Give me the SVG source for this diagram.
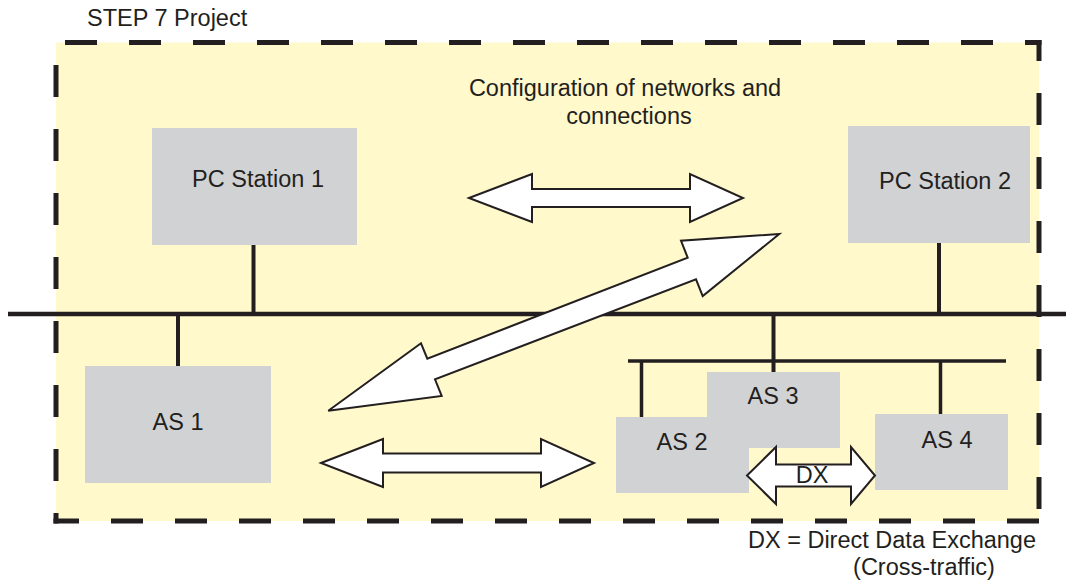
<svg xmlns="http://www.w3.org/2000/svg" width="1066" height="585" viewBox="0 0 1066 585">
<style>
  text { font-family: "Liberation Sans", Arial, sans-serif; font-size: 23.5px; fill: #231f20; }
  .mid { text-anchor: middle; }
  .box { fill: #d1d2d4; }
  .frame { stroke: #231f20; stroke-width: 5; fill: none; stroke-dasharray: 32 32; }
  .bus { stroke: #231f20; stroke-width: 4.5; fill: none; }
  .drop { stroke: #231f20; stroke-width: 4; fill: none; }
  .arrow { fill: #ffffff; stroke: #231f20; stroke-width: 2; stroke-linejoin: miter; }
</style>
<rect width="1066" height="585" fill="#ffffff"/>
<g id="project">
  <rect x="56" y="42.5" width="983" height="478.5" fill="#fff9cb"/>
  <line class="frame" x1="65" y1="42.5" x2="1041.5" y2="42.5"/>
  <line class="frame" x1="56" y1="65" x2="56" y2="523.5"/>
  <line class="frame" x1="1039" y1="40" x2="1039" y2="61" style="stroke-dasharray:none"/>
  <line class="frame" x1="1039" y1="93" x2="1039" y2="509"/>
  <line class="frame" x1="53.5" y1="521" x2="79" y2="521" style="stroke-dasharray:none"/>
  <line class="frame" x1="111" y1="521" x2="1041.5" y2="521"/>
  <text x="87" y="26">STEP 7 Project</text>
  <text class="mid" x="625" y="96">Configuration of networks and</text>
  <text class="mid" x="629" y="124">connections</text>
</g>
<g id="pc1">
  <rect class="box" x="152" y="128" width="205" height="117"/>
  <text class="mid" x="258" y="187">PC Station 1</text>
</g>
<g id="pc2">
  <rect class="box" x="848" y="126" width="182" height="117"/>
  <text class="mid" x="945" y="189">PC Station 2</text>
</g>
<g id="as1">
  <rect class="box" x="85" y="366" width="186" height="117"/>
  <text class="mid" x="178" y="430">AS 1</text>
</g>
<g id="as2">
  <rect class="box" x="616" y="417" width="133" height="76"/>
  <text class="mid" x="682" y="450">AS 2</text>
</g>
<g id="as3">
  <rect class="box" x="707" y="372" width="133" height="76"/>
  <text class="mid" x="773" y="404">AS 3</text>
</g>
<g id="as4">
  <rect class="box" x="875" y="414" width="133" height="76"/>
  <text class="mid" x="947" y="448">AS 4</text>
</g>
<g id="connectors">
  <line class="bus" x1="8" y1="314" x2="1066" y2="314"/>
  <line class="drop" x1="253.5" y1="245" x2="253.5" y2="314"/>
  <line class="drop" x1="178" y1="314" x2="178" y2="366"/>
  <line class="drop" x1="939" y1="243" x2="939" y2="314"/>
  <line class="drop" x1="773.5" y1="314" x2="773.5" y2="372"/>
  <line class="bus" style="stroke-width:3.5" x1="628" y1="361" x2="1006" y2="361"/>
  <line class="drop" style="stroke-width:3.5" x1="641.5" y1="361" x2="641.5" y2="417"/>
  <line class="drop" style="stroke-width:3.5" x1="940.5" y1="361" x2="940.5" y2="414"/>
  <path class="arrow" d="M469,198 L532,174 L532,189 L690,189 L690,174 L743,198 L690,222 L690,207 L532,207 L532,222 Z"/>
  <path class="arrow" d="M328.3,410.7 L421,343.3 L427.3,358.7 L687.7,257.7 L681,240.7 L779.3,234 L702.7,296 L696,279.3 L435,379.3 L441.7,396 Z"/>
  <path class="arrow" d="M321,463 L383,439 L383,453.5 L541,453.5 L541,439 L594,463 L541,487 L541,472.5 L383,472.5 L383,487 Z"/>
  <path class="arrow" d="M747,475.5 L776,447 L776,464.5 L851,464.5 L851,447 L875,475.5 L851,504 L851,486.5 L776,486.5 L776,504 Z"/>
  <text class="mid" x="812" y="483">DX</text>
</g>
<text x="748" y="548">DX = Direct Data Exchange</text>
<text class="mid" x="924" y="575">(Cross-traffic)</text>
</svg>
